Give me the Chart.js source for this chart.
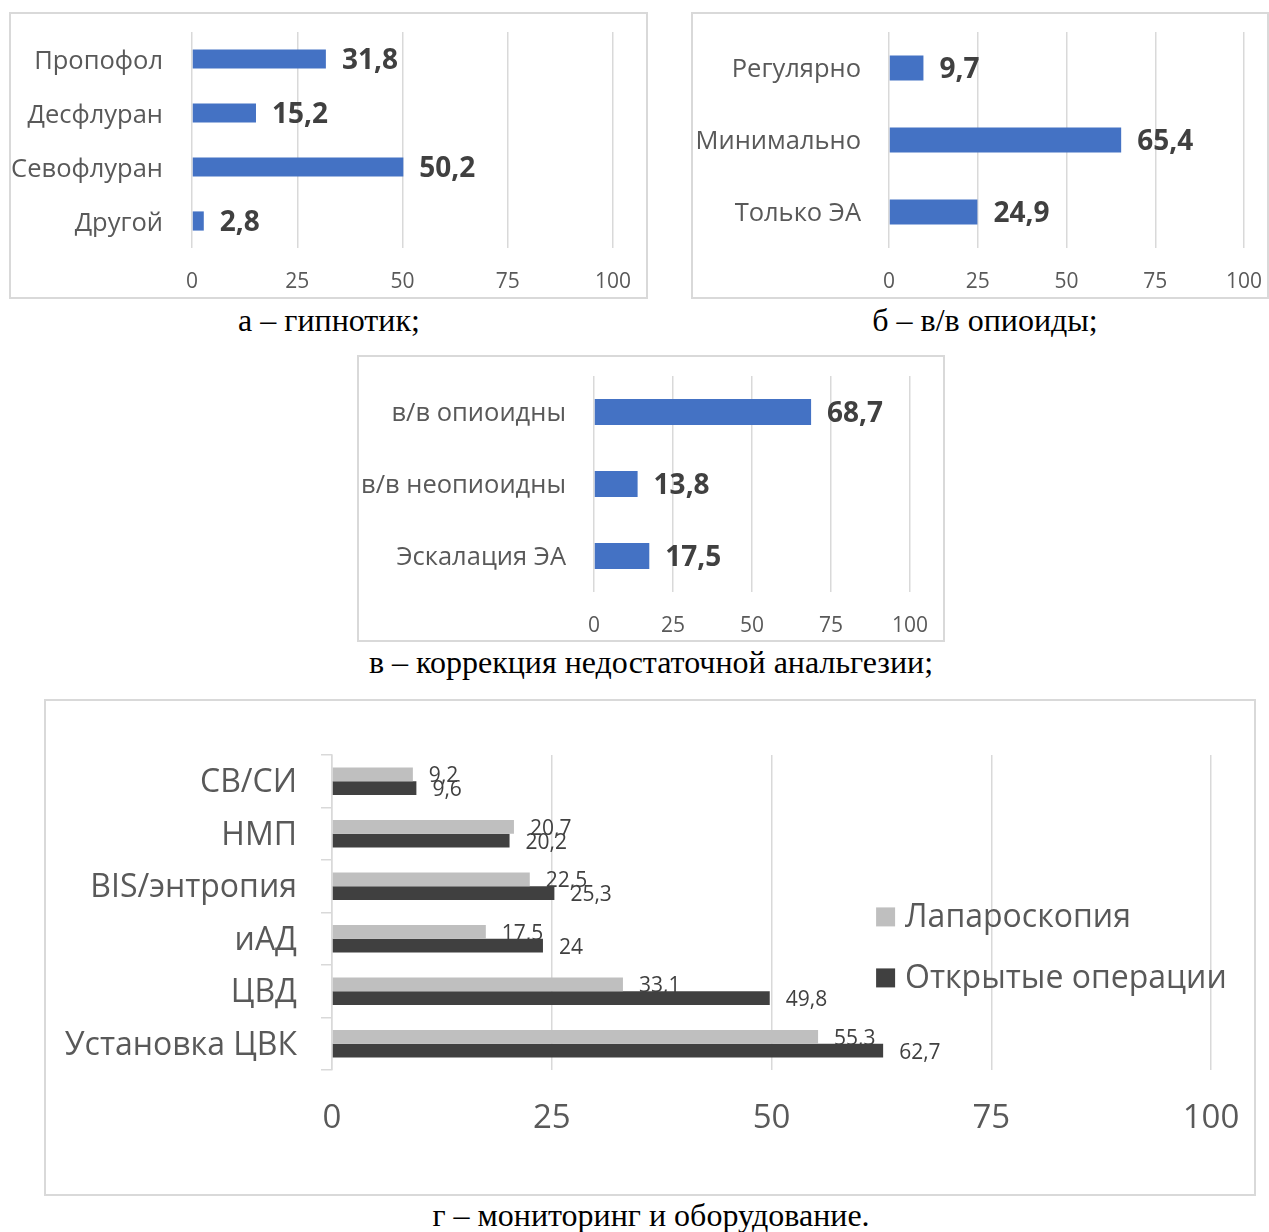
<!DOCTYPE html>
<html lang="ru">
<head>
<meta charset="utf-8">
<title>Анестезиологическое обеспечение</title>
<script src="https://cdn.jsdelivr.net/npm/chart.js@4.4.1/dist/chart.umd.min.js"></script>
<style>
  html, body { margin: 0; padding: 0; background: #fff; }
  body { position: relative; width: 1269px; height: 1232px; overflow: hidden; }
  .panel { position: absolute; box-sizing: border-box; border: 2px solid #d9d9d9; background: #fff; }
  .panel canvas { position: absolute; left: 0; top: 0; }
  .cap { position: absolute; font-family: "Liberation Serif", "Times New Roman", serif; font-size: 32px;
         line-height: 36px; color: #000; white-space: nowrap; transform: translateX(-50%); }
</style>
</head>
<body>
<div class="panel" id="pA"><canvas id="cA"></canvas></div>
<div class="cap" id="capA">а – гипнотик;</div>
<div class="panel" id="pB"><canvas id="cB"></canvas></div>
<div class="cap" id="capB">б – в/в опиоиды;</div>
<div class="panel" id="pC"><canvas id="cC"></canvas></div>
<div class="cap" id="capC">в – коррекция недостаточной анальгезии;</div>
<div class="panel" id="pD"><canvas id="cD"></canvas></div>
<div class="cap" id="capD">г – мониторинг и оборудование.</div>

<script>
// ---- data ----
const axisTicks = [0, 25, 50, 75, 100];

const hypnoticLabels = ['Пропофол', 'Десфлуран', 'Севофлуран', 'Другой'];
const hypnoticValues = [31.8, 15.2, 50.2, 2.8];

const opioidLabels = ['Регулярно', 'Минимально', 'Только ЭА'];
const opioidValues = [9.7, 65.4, 24.9];

const rescueLabels = ['в/в опиоидны', 'в/в неопиоидны', 'Эскалация ЭА'];
const rescueValues = [68.7, 13.8, 17.5];

const monitorLabels = ['СВ/СИ', 'НМП', 'BIS/энтропия', 'иАД', 'ЦВД', 'Установка ЦВК'];
const seriesNames = ['Лапароскопия', 'Открытые операции'];
const laparoscopyValues = [9.2, 20.7, 22.5, 17.5, 33.1, 55.3];
const openSurgeryValues = [9.6, 20.2, 25.3, 24, 49.8, 62.7];

// ---- styling ----
const FONT = '"Open Sans", "Noto Sans", sans-serif';
const BLUE = '#4472c4';
const LIGHT = '#bfbfbf';
const DARK = '#404040';
const GRID = '#d9d9d9';
const TEXT = '#595959';
const BORDER = 2;

function fmt(v) {
  return Number.isInteger(v) ? String(v) : v.toFixed(1).replace('.', ',');
}

// value labels to the right of each bar; datasets flagged labelUnder are
// written before the bars so neighbouring bars can sit on top of them
function drawValueLabels(chart, opts, under) {
  const ctx = chart.ctx;
  chart.data.datasets.forEach((ds, i) => {
    if (!!ds.labelUnder !== under) return;
    const meta = chart.getDatasetMeta(i);
    ctx.save();
    ctx.font = opts.font;
    ctx.fillStyle = opts.color;
    ctx.textAlign = 'left';
    ctx.textBaseline = 'middle';
    meta.data.forEach((bar, j) => {
      ctx.fillText(fmt(ds.data[j]), bar.x + opts.offset, bar.y + (opts.dy || 0));
    });
    ctx.restore();
  });
}
const valueLabels = {
  id: 'valueLabels',
  beforeDatasetsDraw(chart, args, opts) { drawValueLabels(chart, opts, true); },
  afterDatasetsDraw(chart, args, opts) { drawValueLabels(chart, opts, false); }
};

// legend placed inside the plot area
const innerLegend = {
  id: 'innerLegend',
  afterDatasetsDraw(chart, args, opts) {
    if (!opts || !opts.show) return;
    const { left, top, width, height } = chart.chartArea;
    const ctx = chart.ctx;
    ctx.save();
    ctx.font = opts.font;
    ctx.textBaseline = 'middle';
    ctx.textAlign = 'left';
    chart.data.datasets.forEach((ds, i) => {
      const x = left + opts.x * width;
      const y = top + opts.y * height + i * opts.gap;
      ctx.fillStyle = ds.backgroundColor;
      ctx.fillRect(x, y - opts.box / 2, opts.box, opts.box);
      ctx.fillStyle = opts.color;
      ctx.fillText(ds.label, x + opts.box + 10, y + 1);
    });
    ctx.restore();
  }
};

function place(el, box) {
  el.style.left = box.x + 'px';
  el.style.top = box.y + 'px';
  el.style.width = box.w + 'px';
  el.style.height = box.h + 'px';
}

function placeCaption(id, cx, cy) {
  const el = document.getElementById(id);
  el.style.left = cx + 'px';
  el.style.top = (cy - 19) + 'px';
}

// fixed axis sizes; label overhang is kept out of the layout
function fixSize(dim, value) {
  return (s) => {
    s[dim] = value;
    s.paddingLeft = s.paddingRight = s.paddingTop = s.paddingBottom = 0;
  };
}

// box: panel frame on the page; plot: plot area edges on the page
function barPanel(cfg) {
  const panel = document.getElementById(cfg.panel);
  place(panel, cfg.box);
  const cw = cfg.box.w - 2 * BORDER, ch = cfg.box.h - 2 * BORDER;
  const ox = cfg.box.x + BORDER, oy = cfg.box.y + BORDER;
  const canvas = document.getElementById(cfg.canvas);
  canvas.width = cw; canvas.height = ch;
  canvas.style.width = cw + 'px'; canvas.style.height = ch + 'px';

  const yWidth = cfg.plot.left - ox;
  const xHeight = (oy + ch) - cfg.plot.bottom;

  return new Chart(canvas, {
    type: 'bar',
    data: { labels: cfg.labels, datasets: cfg.datasets },
    plugins: [valueLabels, innerLegend],
    options: {
      indexAxis: 'y',
      responsive: false,
      animation: false,
      events: [],
      layout: {
        padding: { left: 0, top: cfg.plot.top - oy, right: (ox + cw) - cfg.plot.right, bottom: 0 }
      },
      datasets: {
        bar: {
          categoryPercentage: cfg.categoryPercentage,
          barPercentage: cfg.barPercentage
        }
      },
      scales: {
        x: {
          min: 0, max: 100,
          afterBuildTicks: (s) => { s.ticks = axisTicks.map(v => ({ value: v })); },
          afterFit: fixSize('height', xHeight),
          grid: { color: GRID, lineWidth: 1.5, drawTicks: false },
          border: { display: false },
          ticks: { color: TEXT, font: { family: FONT, size: cfg.tickSize }, padding: cfg.tickPad, maxRotation: 0 }
        },
        y: {
          afterFit: fixSize('width', yWidth),
          grid: cfg.catGrid,
          border: cfg.catBorder,
          ticks: { color: TEXT, font: { family: FONT, size: cfg.catSize }, padding: cfg.catPad, labelOffset: cfg.catShift }
        }
      },
      plugins: {
        legend: { display: false },
        tooltip: { enabled: false },
        valueLabels: cfg.valueLabels,
        innerLegend: cfg.innerLegend || { show: false }
      }
    }
  });
}

const boldValues = { font: 'bold 28px ' + FONT, color: DARK, offset: 16, dy: 2 };
const noCatGrid = { display: false, drawTicks: false };
const noCatBorder = { display: false };

barPanel({
  panel: 'pA', canvas: 'cA',
  box: { x: 9, y: 12, w: 639, h: 287 },
  plot: { left: 192, top: 32, right: 613, bottom: 248 },
  labels: hypnoticLabels,
  datasets: [{ data: hypnoticValues, backgroundColor: BLUE }],
  categoryPercentage: 1, barPercentage: 0.355,
  tickSize: 21, tickPad: 21, catSize: 25.5, catPad: 29, catShift: 3,
  catGrid: noCatGrid, catBorder: noCatBorder,
  valueLabels: boldValues
});
placeCaption('capA', 329, 321);

barPanel({
  panel: 'pB', canvas: 'cB',
  box: { x: 691, y: 12, w: 578, h: 287 },
  plot: { left: 889, top: 32, right: 1244, bottom: 248 },
  labels: opioidLabels,
  datasets: [{ data: opioidValues, backgroundColor: BLUE }],
  categoryPercentage: 1, barPercentage: 0.35,
  tickSize: 21, tickPad: 21, catSize: 25.5, catPad: 28, catShift: 2,
  catGrid: noCatGrid, catBorder: noCatBorder,
  valueLabels: boldValues
});
placeCaption('capB', 985, 321);

barPanel({
  panel: 'pC', canvas: 'cC',
  box: { x: 357, y: 355, w: 588, h: 287 },
  plot: { left: 594, top: 376, right: 910, bottom: 592 },
  labels: rescueLabels,
  datasets: [{ data: rescueValues, backgroundColor: BLUE }],
  categoryPercentage: 1, barPercentage: 0.36,
  tickSize: 21, tickPad: 21, catSize: 25.5, catPad: 28, catShift: 2,
  catGrid: noCatGrid, catBorder: noCatBorder,
  valueLabels: boldValues
});
placeCaption('capC', 651, 663);

barPanel({
  panel: 'pD', canvas: 'cD',
  box: { x: 44, y: 699, w: 1212, h: 497 },
  plot: { left: 332, top: 755, right: 1211, bottom: 1070 },
  labels: monitorLabels,
  datasets: [
    { label: seriesNames[0], data: laparoscopyValues, backgroundColor: LIGHT, labelUnder: true },
    { label: seriesNames[1], data: openSurgeryValues, backgroundColor: DARK }
  ],
  categoryPercentage: 0.52, barPercentage: 1,
  tickSize: 33, tickPad: 29, catSize: 32, catPad: 24, catShift: 2,
  catGrid: { display: true, drawOnChartArea: false, drawTicks: true, tickLength: 11, color: GRID, lineWidth: 1.5 },
  catBorder: { display: true, color: GRID, width: 1.5 },
  valueLabels: { font: '21px ' + FONT, color: DARK, offset: 16, dy: 2 },
  innerLegend: { show: true, x: 0.619, y: 0.514, gap: 61, box: 19, font: '32px ' + FONT, color: TEXT }
});
placeCaption('capD', 651, 1216);
</script>
</body>
</html>
